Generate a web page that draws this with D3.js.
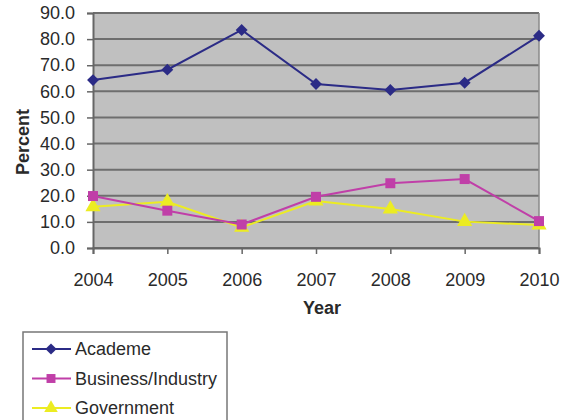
<!DOCTYPE html>
<html>
<head>
<meta charset="utf-8">
<script src="https://cdn.jsdelivr.net/npm/d3@7"></script>
<style>
  body { margin: 0; background: #fff; }
  text { font-family: "Liberation Sans", Arial, sans-serif; fill: #2a2a2a; }
</style>
</head>
<body>
<svg id="chart" width="568" height="420"></svg>
<script>
// data
var years = ["2004", "2005", "2006", "2007", "2008", "2009", "2010"];
var academe = [64.3, 68.3, 83.5, 62.8, 60.5, 63.3, 81.3];
var business = [19.9, 14.3, 9.0, 19.6, 24.8, 26.4, 10.3];
var government = [15.8, 17.7, 7.9, 18.0, 14.9, 10.1, 8.8];
var yTicks = [0, 10, 20, 30, 40, 50, 60, 70, 80, 90];

var series = [
  { name: "Academe", values: academe, color: "#2b2b86", symbol: d3.symbolDiamond2 },
  { name: "Business/Industry", values: business, color: "#c03fa8", symbol: d3.symbolSquare },
  { name: "Government", values: government, color: "#ecec22", symbol: d3.symbolTriangle }
];

var margin = { top: 13, left: 93, right: 29, bottom: 172 };
var width = 568 - margin.left - margin.right;
var height = 420 - margin.top - margin.bottom;

var svg = d3.select("#chart");
var g = svg.append("g")
  .attr("transform", "translate(" + margin.left + "," + margin.top + ")");

var x = d3.scalePoint().domain(years).range([0, width]);
var y = d3.scaleLinear().domain([0, 90]).range([height, 0]);

// plot background
g.append("rect")
  .attr("width", width)
  .attr("height", height)
  .attr("fill", "#c0c0c0");

// gridlines
g.append("g")
  .selectAll("line")
  .data(yTicks)
  .enter().append("line")
  .attr("x1", 0).attr("x2", width)
  .attr("y1", function (d) { return y(d); })
  .attr("y2", function (d) { return y(d); })
  .attr("stroke", "#6e6e6e")
  .attr("stroke-width", 2);

// right border
g.append("line")
  .attr("x1", width).attr("x2", width)
  .attr("y1", 0).attr("y2", height)
  .attr("stroke", "#8a8a8a")
  .attr("stroke-width", 1.5);

// y axis
var yAxis = g.append("g")
  .call(d3.axisLeft(y).tickValues(yTicks).tickFormat(d3.format(".1f")).tickSize(6).tickPadding(12));
yAxis.select(".domain").attr("stroke", "#666").attr("stroke-width", 2);
yAxis.selectAll(".tick line").attr("stroke", "#666").attr("stroke-width", 1.5);
yAxis.selectAll("text").style("font-size", "18px").attr("fill", "#2a2a2a");

// x axis
var xAxis = g.append("g")
  .attr("transform", "translate(0," + height + ")")
  .call(d3.axisBottom(x).tickSize(6).tickPadding(19));
xAxis.select(".domain").attr("stroke", "#666").attr("stroke-width", 2);
xAxis.selectAll(".tick line").attr("stroke", "#666").attr("stroke-width", 1.5);
xAxis.selectAll("text").style("font-size", "18px").attr("fill", "#2a2a2a");

// axis titles
svg.append("text")
  .attr("x", 322)
  .attr("y", 314)
  .attr("text-anchor", "middle")
  .style("font-size", "18px")
  .style("font-weight", "bold")
  .text("Year");

svg.append("text")
  .attr("transform", "translate(29,142) rotate(-90)")
  .attr("text-anchor", "middle")
  .style("font-size", "18px")
  .style("font-weight", "bold")
  .text("Percent");

// lines and markers
var line = d3.line()
  .x(function (d, i) { return x(years[i]); })
  .y(function (d) { return y(d); });

series.slice().reverse().forEach(function (s) {
  g.append("path")
    .datum(s.values)
    .attr("fill", "none")
    .attr("stroke", s.color)
    .attr("stroke-width", 2)
    .attr("d", line);
  g.selectAll(null)
    .data(s.values)
    .enter().append("path")
    .attr("transform", function (d, i) { return "translate(" + x(years[i]) + "," + y(d) + ")"; })
    .attr("d", d3.symbol().type(s.symbol).size(s.symbol === d3.symbolDiamond2 ? 90 : 100))
    .attr("fill", s.color);
});

// legend
var legend = svg.append("g").attr("transform", "translate(23,332)");
legend.append("rect")
  .attr("width", 204)
  .attr("height", 100)
  .attr("fill", "#fff")
  .attr("stroke", "#777")
  .attr("stroke-width", 1.5);

var item = legend.selectAll("g.item")
  .data(series)
  .enter().append("g")
  .attr("class", "item")
  .attr("transform", function (d, i) { return "translate(0," + (17 + i * 29.5) + ")"; });
item.append("line")
  .attr("x1", 9).attr("x2", 48)
  .attr("stroke", function (d) { return d.color; })
  .attr("stroke-width", 2);
item.append("path")
  .attr("transform", "translate(28,0)")
  .attr("d", function (d) { return d3.symbol().type(d.symbol).size(80)(); })
  .attr("fill", function (d) { return d.color; });
item.append("text")
  .attr("x", 52)
  .attr("dy", "0.35em")
  .style("font-size", "18px")
  .text(function (d) { return d.name; });
</script>
</body>
</html>
